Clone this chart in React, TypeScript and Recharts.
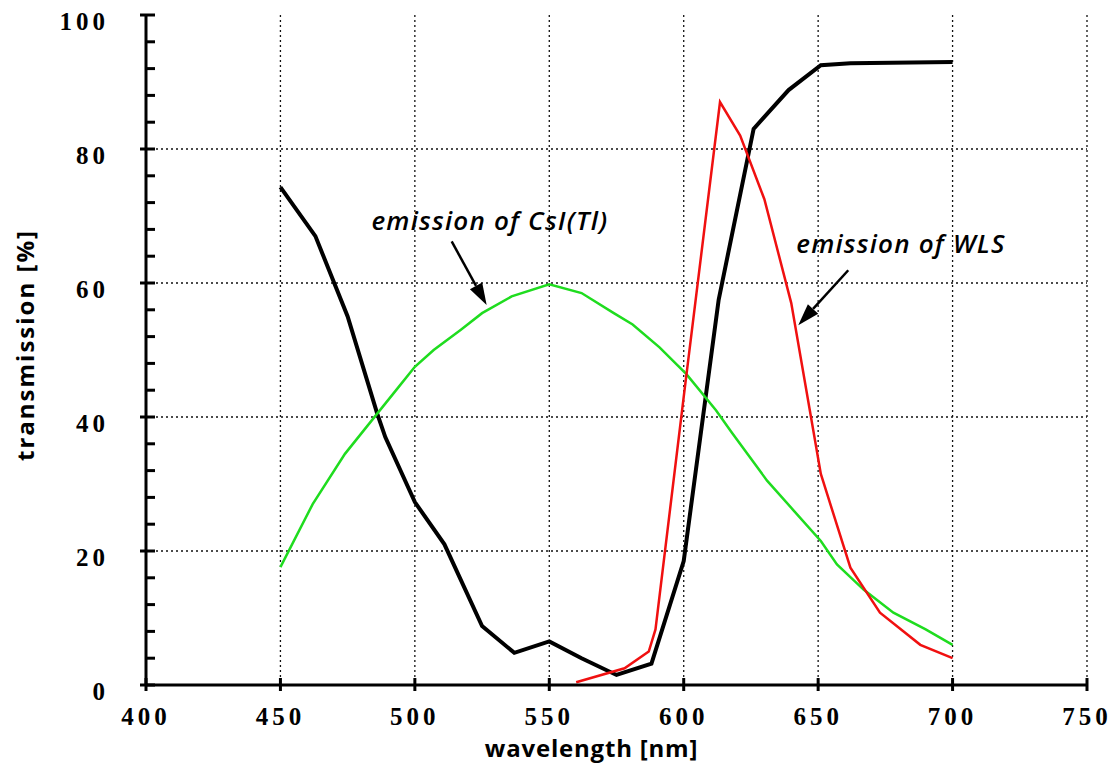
import React from 'react';
import { LineChart, Line, XAxis, YAxis, CartesianGrid, ReferenceLine, ReferenceDot } from 'recharts';

// transmission of the filter (black)
const transWl = [450, 463, 475, 486, 489, 500, 511, 525, 537, 550, 562, 575, 588, 600, 613, 626, 639, 651, 662, 700];
const transVal = [74.3, 67, 55, 40.5, 37, 27.3, 21, 8.8, 4.8, 6.5, 4, 1.5, 3.2, 18.5, 57.5, 83, 88.8, 92.5, 92.8, 93];

// emission of WLS (red)
const wlsWl = [560, 578, 587, 589.5, 600, 613.5, 621, 630, 640, 651, 662, 673, 688, 700];
const wlsVal = [0.4, 2.5, 5, 8.3, 43, 87, 82, 72.5, 57, 31.5, 17.5, 10.8, 6, 4];

// emission of CsI(Tl) (green)
const csiWl = [450, 462, 474, 486, 494, 500, 507, 517, 525, 536, 550, 562, 574, 581, 591, 601, 612, 618, 631, 641, 651, 657, 667, 678, 690, 700];
const csiVal = [17.6, 27, 34.5, 40.5, 44.5, 47.5, 50, 53, 55.5, 58, 59.8, 58.5, 55.5, 53.8, 50.4, 46.4, 41, 37.6, 30.5, 26, 21.5, 18, 14.2, 10.8, 8.3, 6];

const xTicks = [400, 450, 500, 550, 600, 650, 700, 750];
const yTicks = [0, 20, 40, 60, 80, 100];
const yMinor = [0, 4, 8, 12, 16, 20, 24, 28, 32, 36, 40, 44, 48, 52, 56, 60, 64, 68, 72, 76, 80, 84, 88, 92, 96, 100];

const toPoints = (xs: number[], ys: number[]) => xs.map((x, i) => ({ x, y: ys[i] }));

const transData = toPoints(transWl, transVal);
const wlsData = toPoints(wlsWl, wlsVal);
const csiData = toPoints(csiWl, csiVal);

const tickFont = {
  fontFamily: '"Liberation Serif", "Times New Roman", serif',
  fontWeight: 700,
  fontSize: 25,
  fill: '#000',
  letterSpacing: 4,
};

const titleFont = {
  fontFamily: '"Open Sans", sans-serif',
  fontWeight: 700,
  fontSize: 24,
  fill: '#000',
  letterSpacing: 0.8,
};

const noteFont = {
  fontFamily: '"Open Sans", sans-serif',
  fontStyle: 'italic',
  fontWeight: 600,
  fontSize: 26,
  fill: '#000',
  letterSpacing: 1.2,
};

const mark = { stroke: '#000', strokeWidth: 3 };
const gridStyle = { stroke: '#111', strokeDasharray: '2 3', strokeWidth: 1.3 };

const LeftTick = (props: any) => {
  const { x, y, payload } = props;
  const major = yTicks.includes(payload.value);
  return (
    <g>
      <line x1={x} x2={x + 9} y1={y} y2={y} {...mark} />
      {major && <line x1={x - 6} x2={x} y1={y} y2={y} {...mark} />}
      {major && (
        <text x={x - 37} y={y + 6} textAnchor="end" dominantBaseline="central" style={tickFont}>
          {payload.value}
        </text>
      )}
    </g>
  );
};

const RightTick = (props: any) => {
  const { x, y, payload } = props;
  const major = yTicks.includes(payload.value);
  return (
    <g>
      <line x1={x - 9} x2={x} y1={y} y2={y} {...mark} />
      {major && <line x1={x} x2={x + 4} y1={y} y2={y} {...mark} />}
    </g>
  );
};

const BottomTick = (props: any) => {
  const { x, y, payload } = props;
  return (
    <g>
      <line x1={x} x2={x} y1={y - 7} y2={y + 6} {...mark} />
      <text x={x} y={y + 31} textAnchor="middle" dominantBaseline="central" style={tickFont}>
        {payload.value}
      </text>
    </g>
  );
};

const TopTick = (props: any) => {
  const { x, y } = props;
  return <line x1={x} x2={x} y1={y - 3} y2={y + 6} {...mark} />;
};

const Arrow = (props: any) => {
  const { x1, y1, x2, y2 } = props;
  const ang = Math.atan2(y2 - y1, x2 - x1);
  const len = 22;
  const half = 7;
  const bx = x2 - len * Math.cos(ang);
  const by = y2 - len * Math.sin(ang);
  const px = -Math.sin(ang) * half;
  const py = Math.cos(ang) * half;
  return (
    <g>
      <line x1={x1} y1={y1} x2={bx} y2={by} stroke="#000" strokeWidth={2.5} />
      <polygon points={`${x2},${y2} ${bx + px},${by + py} ${bx - px},${by - py}`} fill="#000" />
    </g>
  );
};

const note = (text: string) => (props: any) => (
  <text x={props.cx} y={props.cy} textAnchor="middle" dominantBaseline="central" style={noteFont}>
    {text}
  </text>
);

export default function App() {
  return (
    <div style={{ position: 'absolute', left: 0, top: 0, width: 1111, height: 770, background: '#fff' }}>
      <LineChart width={1111} height={770} margin={{ top: 15, right: 24, bottom: 0, left: 0 }}>
        <CartesianGrid xAxisId="b" yAxisId="l" horizontal={false} {...gridStyle} />
        {yTicks.slice(1, -1).map((v) => (
          <ReferenceLine key={v} xAxisId="b" yAxisId="l" y={v} {...gridStyle} />
        ))}

        <XAxis
          xAxisId="b"
          dataKey="x"
          type="number"
          domain={[400, 750]}
          ticks={xTicks}
          interval={0}
          height={85}
          tickSize={0}
          tickMargin={0}
          tickLine={false}
          tick={BottomTick}
          axisLine={mark}
          label={{ value: 'wavelength  [nm]', position: 'insideBottom', offset: 13, dx: -25, style: titleFont }}
        />
        <XAxis
          xAxisId="t"
          orientation="top"
          type="number"
          domain={[400, 750]}
          ticks={xTicks}
          interval={0}
          height={0}
          tickSize={0}
          tickMargin={0}
          tickLine={false}
          tick={TopTick}
          axisLine={mark}
        />

        <YAxis
          yAxisId="l"
          type="number"
          domain={[0, 100]}
          ticks={yMinor}
          interval={0}
          width={146}
          tickSize={0}
          tickMargin={0}
          tickLine={false}
          tick={LeftTick}
          axisLine={mark}
          label={{
            value: 'transmission  [%]',
            angle: -90,
            position: 'insideLeft',
            offset: 25,
            dy: -5,
            style: { ...titleFont, letterSpacing: 2, textAnchor: 'middle' },
          }}
        />
        <YAxis
          yAxisId="r"
          orientation="right"
          type="number"
          domain={[0, 100]}
          ticks={yMinor}
          interval={0}
          width={0}
          tickSize={0}
          tickMargin={0}
          tickLine={false}
          tick={RightTick}
          axisLine={mark}
        />

        <Line
          xAxisId="b"
          yAxisId="l"
          data={transData}
          dataKey="y"
          type="linear"
          stroke="#000"
          strokeWidth={4}
          dot={false}
          isAnimationActive={false}
        />
        <Line
          xAxisId="b"
          yAxisId="l"
          data={csiData}
          dataKey="y"
          type="linear"
          stroke="#1fdc1f"
          strokeWidth={2.5}
          dot={false}
          isAnimationActive={false}
        />
        <Line
          xAxisId="b"
          yAxisId="l"
          data={wlsData}
          dataKey="y"
          type="linear"
          stroke="#f01010"
          strokeWidth={2.5}
          dot={false}
          isAnimationActive={false}
        />

        <ReferenceLine
          xAxisId="b"
          yAxisId="l"
          segment={[{ x: 513.7, y: 66.2 }, { x: 526.7, y: 56.7 }]}
          shape={Arrow}
        />
        <ReferenceLine
          xAxisId="b"
          yAxisId="l"
          segment={[{ x: 661.2, y: 61.9 }, { x: 642.6, y: 53.7 }]}
          shape={Arrow}
        />
        <ReferenceDot xAxisId="b" yAxisId="l" x={527.9} y={69.4} shape={note('emission of CsI(Tl)')} />
        <ReferenceDot xAxisId="b" yAxisId="l" x={680.8} y={66} shape={note('emission of WLS')} />
      </LineChart>
    </div>
  );
}
